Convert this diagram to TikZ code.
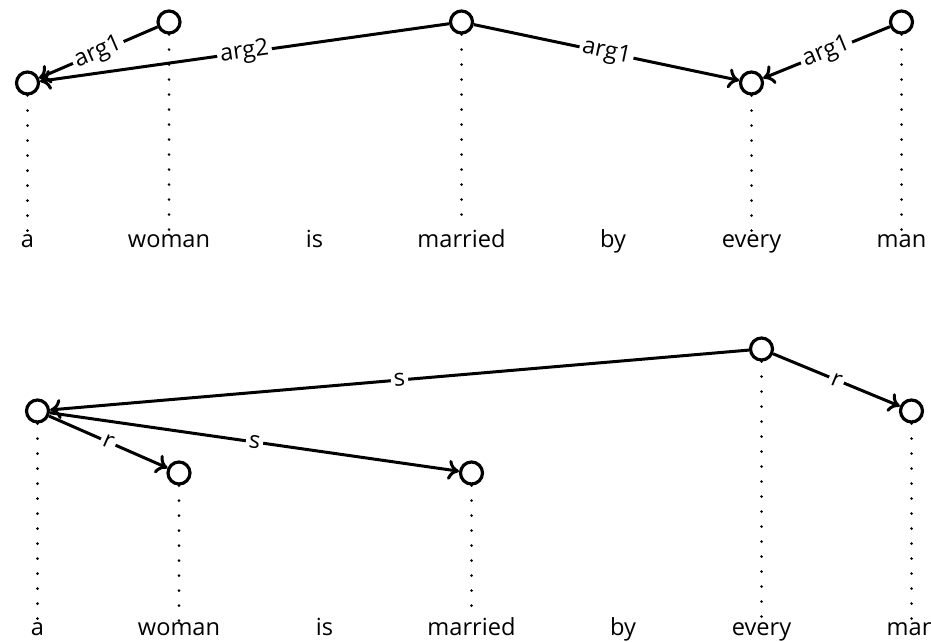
\documentclass[tikz,border=0pt]{standalone}
\usepackage{fontspec}
\setmainfont{Open Sans}
\usetikzlibrary{arrows.meta}
\begin{document}
\begin{tikzpicture}[x=0.5pt,y=-0.5pt,
  every node/.style={font=\fontsize{11.8}{14}\selectfont},
  tok/.style={inner sep=0pt, anchor=base},
  var/.style={circle, draw, line width=1.6pt, minimum size=11pt, inner sep=0pt},
  rel/.style={line width=1.5pt, -{To[length=5.5pt,width=10pt]}},
  lab/.style={fill=white, inner sep=1.5pt, sloped, midway},
  link/.style={line width=1.4pt, line cap=round, dash pattern=on 0pt off 7.5pt}]
\useasboundingbox (0,0) rectangle (931,642);

% ---- upper analysis: predicate-argument links ----
\node[tok] (ta) at (27.5,247) {a};
\node[tok] (twoman) at (169,247) {woman};
\node[tok] (tis) at (314.5,247) {is};
\node[tok] (tmarried) at (461.5,247) {married};
\node[tok] (tby) at (613,247) {by};
\node[tok] (tevery) at (751.5,247) {every};
\node[tok] (tman) at (901.5,247) {man};

\node[var] (ua) at (27.5,83) {};
\node[var] (uwoman) at (169,22) {};
\node[var] (umarried) at (461.5,22) {};
\node[var] (uevery) at (751.5,83) {};
\node[var] (uman) at (901.5,22) {};

\foreach \v/\t in {ua/ta, uwoman/twoman, umarried/tmarried, uevery/tevery, uman/tman}
  \draw[link] (\v.south) -- (\v.south |- \t.north);

\draw[rel] (uwoman) -- node[lab] {arg1} (ua);
\draw[rel] (umarried) -- node[lab] {arg2} (ua);
\draw[rel] (umarried) -- node[lab] {arg1} (uevery);
\draw[rel] (uman) -- node[lab] {arg1} (uevery);

% ---- lower analysis: scope and restriction links ----
\node[tok] (ba) at (37.5,635) {a};
\node[tok] (bwoman) at (179,635) {woman};
\node[tok] (bis) at (324.5,635) {is};
\node[tok] (bmarried) at (471.5,635) {married};
\node[tok] (bby) at (623,635) {by};
\node[tok] (bevery) at (761.5,635) {every};
\node[tok] (bman) at (911.5,635) {man};

\node[var] (la) at (37.5,411) {};
\node[var] (lwoman) at (179,473) {};
\node[var] (lmarried) at (471.5,473) {};
\node[var] (levery) at (761.5,349) {};
\node[var] (lman) at (911.5,411) {};

\foreach \v/\t in {la/ba, lwoman/bwoman, lmarried/bmarried, levery/bevery, lman/bman}
  \draw[link] (\v.south) -- (\v.south |- \t.north);

\draw[rel] (levery) -- node[lab] {s} (la);
\draw[rel] (la) -- node[lab] {r} (lwoman);
\draw[rel] (la) -- node[lab] {s} (lmarried);
\draw[rel] (levery) -- node[lab] {r} (lman);
\end{tikzpicture}
\end{document}
